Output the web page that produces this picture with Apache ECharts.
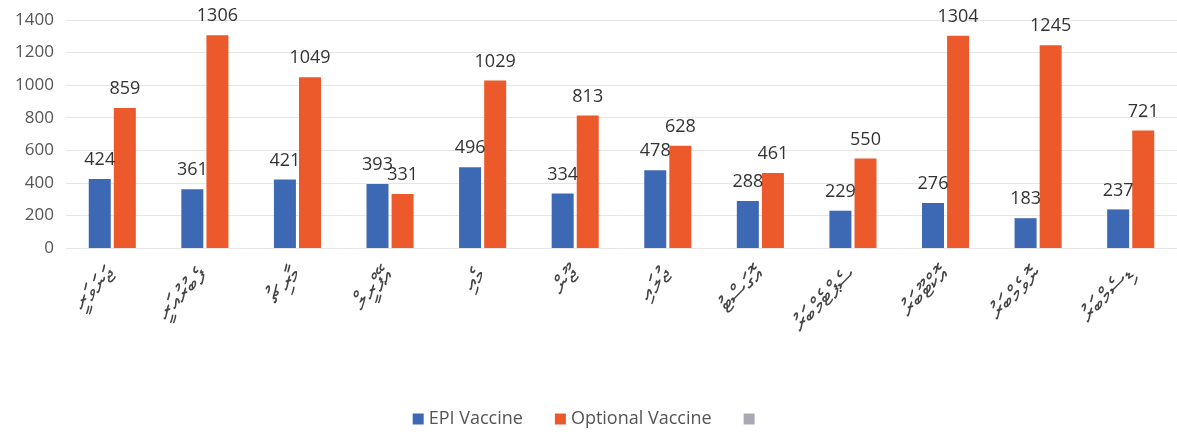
<!DOCTYPE html>
<html>
<head>
<meta charset="utf-8">
<script src="https://cdn.jsdelivr.net/npm/echarts@6/dist/echarts.min.js"></script>
<style>
  html, body { margin: 0; padding: 0; background: #fff; }
  #chart { width: 1177px; height: 443px; }
</style>
</head>
<body>
<div id="chart"></div>
<script>
  // months in Dhivehi
  const months = ['ޖަނަވަރީ', 'ފެބުރުއަރީ', 'މާރިޗު', 'އޭޕްރީލް', 'މެއި', 'ޖޫން', 'ޖުލައި', 'އޮގަސްޓު', 'ސެޕްޓެމްބަރު', 'އޮކްޓޫބަރު', 'ނޮވެމްބަރު', 'ޑިސެމްބަރު'];
  const epiVaccine = [424, 361, 421, 393, 496, 334, 478, 288, 229, 276, 183, 237];
  const optionalVaccine = [859, 1306, 1049, 331, 1029, 813, 628, 461, 550, 1304, 1245, 721];

  const myChart = echarts.init(document.getElementById('chart'));
  const labelStyle = {
    show: true,
    position: 'top',
    distance: 10,
    fontSize: 18,
    color: '#333',
    fontFamily: 'Open Sans'
  };
  const option = {
    animation: false,
    textStyle: { fontFamily: 'Open Sans' },
    grid: { left: 66, right: 0, top: 20, bottom: 195 },
    legend: {
      bottom: 10,
      left: 'center',
      itemWidth: 11,
      itemHeight: 11,
      itemGap: 32,
      textStyle: { fontSize: 18, color: '#555' },
      data: [
        { name: 'EPI Vaccine', icon: 'rect' },
        { name: 'Optional Vaccine', icon: 'rect' },
        { name: ' ', icon: 'rect' }
      ]
    },
    xAxis: {
      type: 'category',
      data: months,
      axisLine: { show: false },
      axisTick: { show: false },
      axisLabel: {
        rotate: 45,
        margin: 24,
        fontSize: 24,
        color: '#444'
      }
    },
    yAxis: {
      type: 'value',
      min: 0,
      max: 1400,
      interval: 200,
      axisLabel: {
        fontSize: 17,
        color: '#555',
        margin: 12,
        formatter: function (v) { return String(v); }
      },
      splitLine: { lineStyle: { color: '#e6e6e6' } }
    },
    series: [
      {
        name: 'EPI Vaccine',
        type: 'bar',
        data: epiVaccine,
        barWidth: 22,
        barGap: '14%',
        itemStyle: { color: '#3d68b4' },
        label: labelStyle
      },
      {
        name: 'Optional Vaccine',
        type: 'bar',
        data: optionalVaccine,
        barWidth: 22,
        itemStyle: { color: '#ec5a2b' },
        label: labelStyle
      },
      {
        name: ' ',
        type: 'line',
        data: [],
        itemStyle: { color: '#a9a9b3' }
      }
    ]
  };
  myChart.setOption(option);
</script>
</body>
</html>
